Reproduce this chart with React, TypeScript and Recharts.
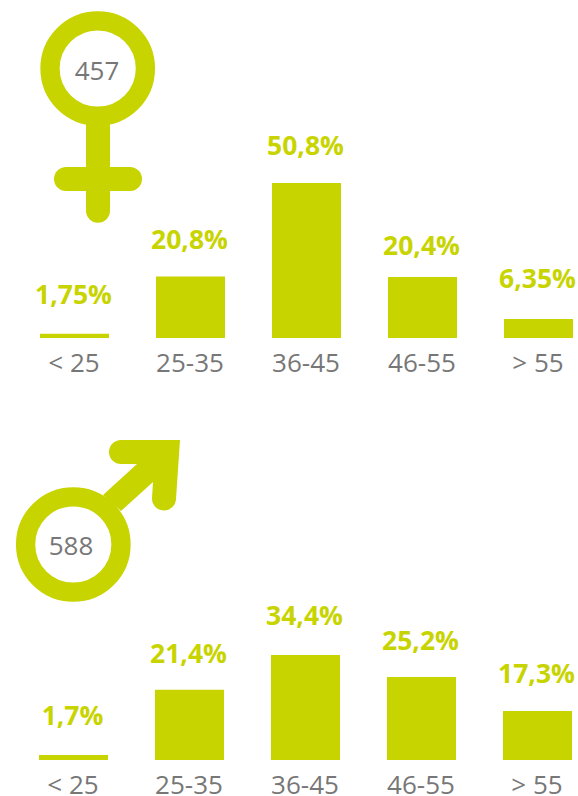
import React from "react";
import { BarChart, Bar, XAxis, YAxis, LabelList } from "recharts";

const ageGroups = ["< 25", "25-35", "36-45", "46-55", "> 55"];

// Printed percentages
const femaleLabels = ["1,75%", "20,8%", "50,8%", "20,4%", "6,35%"];
const maleLabels = ["1,7%", "21,4%", "34,4%", "25,2%", "17,3%"];

// Bar lengths as drawn in the picture, in percent units
const femaleBars = [1.4, 20.2, 50.8, 20.0, 6.2];
const maleBars = [1.6, 23.0, 34.4, 27.2, 16.1];

const femaleCount = "457";
const maleCount = "588";

const GREEN = "#c8d400";
const GREY = "#777777";
const FONT = "'Open Sans', sans-serif";

// Small lift of each printed label above its bar
const femaleLift = [30, 27, 28, 22, 31];
const maleLift = [30, 27, 30, 27, 28];

function makeLabel(labels: string[], lift: number[]) {
  return (props: any) => {
    const { x, y, width, index } = props;
    return (
      <text
        x={Number(x) + Number(width) / 2 - 1}
        y={Number(y) - lift[index]}
        textAnchor="middle"
        fill={GREEN}
        fontFamily={FONT}
        fontWeight={700}
        fontSize={26.5}
      >
        {labels[index]}
      </text>
    );
  };
}

function AgeChart(props: {
  top: number;
  left: number;
  bars: number[];
  labels: string[];
  lift: number[];
}) {
  const data = ageGroups.map((group, i) => ({ group, value: props.bars[i] }));
  return (
    <div style={{ position: "absolute", top: props.top - 40, left: 0 }}>
      <BarChart
        width={600}
        height={280}
        data={data}
        margin={{ top: 40, bottom: 0, left: props.left, right: 600 - props.left - 580 }}
      >
        <XAxis
          dataKey="group"
          interval={0}
          height={57}
          axisLine={false}
          tickLine={false}
          tickMargin={10}
          tick={{ fill: GREY, fontFamily: FONT, fontSize: 26 }}
        />
        <YAxis hide domain={[0, 60]} />
        <Bar dataKey="value" fill={GREEN} barSize={69} isAnimationActive={false}>
          <LabelList dataKey="value" content={makeLabel(props.labels, props.lift)} />
        </Bar>
      </BarChart>
    </div>
  );
}

export default function App() {
  return (
    <div
      style={{
        position: "absolute",
        left: 0,
        top: 0,
        width: 578,
        height: 796,
        overflow: "hidden",
        background: "#ffffff",
      }}
    >
      <AgeChart top={155} left={16} bars={femaleBars} labels={femaleLabels} lift={femaleLift} />
      <AgeChart top={577} left={15} bars={maleBars} labels={maleLabels} lift={maleLift} />
      <svg width={578} height={796} style={{ position: "absolute", left: 0, top: 0 }}>
        <circle cx={97.7} cy={68.5} r={47.7} fill="none" stroke={GREEN} strokeWidth={19.3} />
        <path d="M98 125 V210.7" stroke={GREEN} strokeWidth={24} strokeLinecap="round" fill="none" />
        <path d="M66 179 H130" stroke={GREEN} strokeWidth={24} strokeLinecap="round" fill="none" />
        <text x={97} y={80} textAnchor="middle" fill={GREY} fontFamily={FONT} fontSize={26}>
          {femaleCount}
        </text>
        <circle cx={73.3} cy={544.5} r={47.7} fill="none" stroke={GREEN} strokeWidth={19.3} />
        <path
          d="M121 440 L180 440 L176 499 A12 12 0 0 1 152 498 L153 482 L121 511 L103 495 L137 464 L121 464 A12 12 0 0 1 121 440 Z"
          fill={GREEN}
        />
        <text x={71} y={555} textAnchor="middle" fill={GREY} fontFamily={FONT} fontSize={26}>
          {maleCount}
        </text>
      </svg>
    </div>
  );
}
